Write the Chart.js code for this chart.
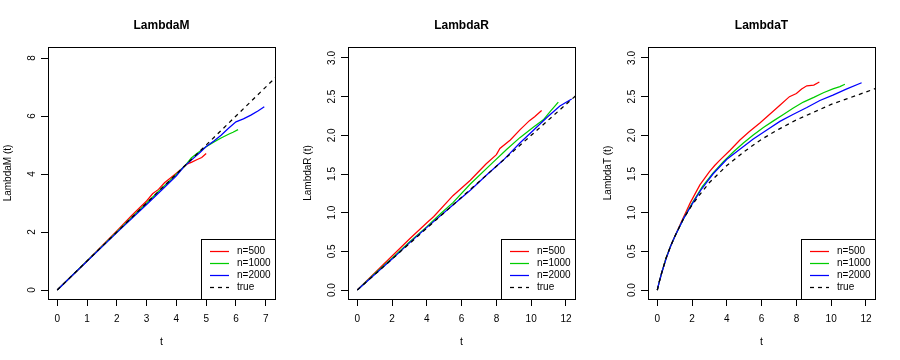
<!DOCTYPE html>
<html>
<head>
<meta charset="utf-8">
<script src="https://cdn.jsdelivr.net/npm/chart.js@4/dist/chart.umd.min.js"></script>
<style>
  html, body { margin: 0; padding: 0; background: #ffffff; }
  #wrap { position: relative; width: 900px; height: 360px; background: #fff; }
  .pane { position: absolute; top: 0; width: 300px; height: 360px; }
</style>
</head>
<body>
<div id="wrap">
  <div class="pane" style="left:0px"><canvas id="cM" width="300" height="360"></canvas></div>
  <div class="pane" style="left:300px"><canvas id="cR" width="300" height="360"></canvas></div>
  <div class="pane" style="left:600px"><canvas id="cT" width="300" height="360"></canvas></div>
</div>
<script>
// ---------- DATA ----------
const seriesLabels = ['n=500', 'n=1000', 'n=2000', 'true'];
const seriesColors = ['#FF0000', '#00CD00', '#0000FF', '#000000'];

// LambdaM panel
const tM500  = [0, 0.5, 1, 1.5, 2, 2.5, 2.8, 3.0, 3.2, 3.4, 3.6, 3.8, 4.0, 4.2, 4.35, 4.5, 4.7, 4.85, 5.0];
const yM500  = [0, 0.5, 1.0, 1.52, 2.04, 2.57, 2.87, 3.07, 3.32, 3.47, 3.7, 3.86, 4.03, 4.2, 4.34, 4.4, 4.5, 4.57, 4.71];
const tM1000 = [0, 1, 2, 3, 3.5, 4.0, 4.3, 4.5, 4.7, 5.0, 5.25, 5.5, 5.75, 5.9, 6.07];
const yM1000 = [0, 1.0, 2.0, 3.0, 3.5, 3.99, 4.3, 4.55, 4.72, 4.94, 5.1, 5.24, 5.37, 5.44, 5.53];
const tM2000 = [0, 1, 2, 3, 3.5, 4.0, 4.25, 4.5, 4.8, 5.0, 5.25, 5.5, 5.75, 6.0, 6.25, 6.5, 6.75, 6.95];
const yM2000 = [0, 0.99, 1.98, 2.95, 3.44, 3.94, 4.25, 4.48, 4.75, 4.95, 5.13, 5.34, 5.58, 5.8, 5.9, 6.03, 6.18, 6.32];
const tMtrue = [0, 7.4];
const yMtrue = [0, 7.4];

// LambdaR panel
const tR500  = [0, 1, 2, 3, 4, 4.4, 5.5, 6.5, 7.4, 8.0, 8.2, 8.8, 9.35, 9.9, 10.2, 10.6];
const yR500  = [0, 0.22, 0.44, 0.66, 0.87, 0.95, 1.22, 1.42, 1.63, 1.75, 1.83, 1.94, 2.07, 2.19, 2.24, 2.32];
const tR1000 = [0, 1, 2, 3, 4, 4.8, 5.5, 6.5, 7.8, 8.6, 9.35, 10.1, 10.7, 11.1, 11.56];
const yR1000 = [0, 0.21, 0.41, 0.62, 0.82, 0.99, 1.13, 1.37, 1.65, 1.82, 1.97, 2.1, 2.2, 2.31, 2.43];
const tR2000 = [0, 1, 2, 3, 4, 5.5, 6.5, 7.45, 8.4, 9.35, 10.1, 10.9, 11.65, 12.33];
const yR2000 = [0, 0.2, 0.4, 0.61, 0.81, 1.1, 1.29, 1.49, 1.68, 1.9, 2.06, 2.23, 2.38, 2.47];
const tRtrue = [0, 12.6];
const yRtrue = [0, 2.52];

// LambdaT panel
const tT500  = [0, 0.1, 0.25, 0.5, 0.75, 1, 1.4, 1.9, 2.45, 3.0, 3.3, 3.6, 4.2, 4.75, 5.3, 5.9, 6.5, 7.05, 7.6, 8.0, 8.3, 8.6, 9.0, 9.32];
const yT500  = [0, 0.095, 0.22, 0.41, 0.56, 0.69, 0.89, 1.13, 1.36, 1.53, 1.61, 1.68, 1.81, 1.94, 2.05, 2.16, 2.28, 2.39, 2.5, 2.54, 2.6, 2.64, 2.65, 2.69];
const tT1000 = [0, 0.1, 0.25, 0.5, 0.75, 1, 1.5, 2.0, 2.6, 3.2, 3.8, 4.4, 4.95, 5.5, 6.1, 6.7, 7.25, 7.8, 8.4, 9.0, 9.55, 10.1, 10.5, 10.79];
const yT1000 = [0, 0.095, 0.22, 0.41, 0.56, 0.69, 0.92, 1.12, 1.34, 1.51, 1.66, 1.79, 1.9, 2.0, 2.1, 2.19, 2.27, 2.35, 2.43, 2.49, 2.55, 2.6, 2.63, 2.66];
const tT2000 = [0, 0.1, 0.25, 0.5, 0.75, 1, 1.5, 2, 2.5, 3.2, 4.0, 4.75, 5.5, 6.3, 7.05, 7.8, 8.6, 9.35, 10.1, 10.9, 11.75];
const yT2000 = [0, 0.095, 0.22, 0.4, 0.56, 0.69, 0.92, 1.11, 1.29, 1.5, 1.69, 1.82, 1.95, 2.07, 2.18, 2.27, 2.36, 2.45, 2.52, 2.6, 2.68];
const tTtrue = [0, 0.1, 0.25, 0.5, 0.75, 1, 1.5, 2, 2.5, 3, 4, 5, 6, 7, 8, 9, 10, 11, 12, 12.6];
const yTtrue = [0, 0.095, 0.22, 0.41, 0.56, 0.69, 0.92, 1.10, 1.25, 1.39, 1.61, 1.79, 1.95, 2.08, 2.20, 2.30, 2.40, 2.48, 2.56, 2.61];

// ticks
const xTicksM = [0, 1, 2, 3, 4, 5, 6, 7];
const yTicksM = [0, 2, 4, 6, 8];
const xTicksRT = [0, 2, 4, 6, 8, 10, 12];
const yTicksRT = [0.0, 0.5, 1.0, 1.5, 2.0, 2.5, 3.0];

// ---------- HELPERS ----------
const FONT = '"Liberation Sans", Arial, Helvetica, sans-serif';
const pts = (xs, ys) => xs.map((x, i) => ({ x: x, y: ys[i] }));

function makeDatasets(list) {
  return list.map((p, i) => ({
    label: seriesLabels[i],
    data: pts(p[0], p[1]),
    borderColor: seriesColors[i],
    backgroundColor: seriesColors[i],
    borderWidth: 1.25,
    borderDash: i === 3 ? [4, 4] : [],
    pointRadius: 0,
    fill: false,
    tension: 0,
    order: 3 - i
  }));
}

const boxPlugin = {
  id: 'rbox',
  afterDatasetsDraw(chart) {
    const { ctx, chartArea: a } = chart;
    // legend box
    const lw = 74, lh = 60;
    const lx = Math.round(a.right) - lw, ly = Math.round(a.bottom) - lh;
    ctx.save();
    ctx.fillStyle = '#ffffff';
    ctx.fillRect(lx, ly, lw, lh);
    ctx.strokeStyle = '#000';
    ctx.lineWidth = 1;
    ctx.strokeRect(lx + 0.5, ly + 0.5, lw, lh);
    ctx.font = '10px ' + FONT;
    ctx.textBaseline = 'middle';
    ctx.textAlign = 'left';
    chart.data.datasets.forEach((ds, i) => {
      const yy = ly + 12.5 + i * 12;
      ctx.beginPath();
      ctx.strokeStyle = ds.borderColor;
      ctx.lineWidth = 1.25;
      ctx.setLineDash(ds.borderDash || []);
      ctx.moveTo(lx + 9, yy);
      ctx.lineTo(lx + 28, yy);
      ctx.stroke();
      ctx.setLineDash([]);
      ctx.fillStyle = '#000';
      ctx.fillText(ds.label, lx + 36, yy);
    });
    // plot frame
    ctx.strokeStyle = '#000';
    ctx.lineWidth = 1;
    ctx.strokeRect(Math.round(a.left) + 0.5, Math.round(a.top) + 0.5,
                   Math.round(a.right - a.left), Math.round(a.bottom - a.top));
    ctx.restore();
  }
};

function makeChart(id, title, ylab, sets, xr, yr, xt, yt, ypad) {
  const tickFont = { family: FONT, size: 10 };
  return new Chart(document.getElementById(id), {
    type: 'line',
    data: { datasets: makeDatasets(sets) },
    options: {
      responsive: false,
      animation: false,
      devicePixelRatio: 1,
      layout: { padding: { left: 0, right: 25, top: 0, bottom: 0 } },
      plugins: {
        legend: { display: false },
        tooltip: { enabled: false },
        title: {
          display: true, text: title, color: '#000', fullSize: false,
          font: { family: FONT, size: 12, weight: 'bold', lineHeight: 1.2 },
          padding: { top: 18, bottom: 14.6 }
        }
      },
      scales: {
        x: {
          type: 'linear', min: xr[0], max: xr[1],
          afterBuildTicks: s => { s.ticks = xt.map(v => ({ value: v })); },
          afterFit: s => { s.height = 61; },
          grid: { display: true, drawOnChartArea: false, drawTicks: true, tickLength: 7, color: '#000', lineWidth: 1 },
          border: { display: true, color: '#000', width: 1 },
          ticks: { color: '#000', font: tickFont, padding: 7, maxRotation: 0, minRotation: 0, autoSkip: false,
                   callback: v => String(v) },
          title: { display: true, text: 't', color: '#000', font: { family: FONT, size: 10.5 }, padding: { top: 0, bottom: 12 } }
        },
        y: {
          type: 'linear', min: yr[0], max: yr[1],
          afterBuildTicks: s => { s.ticks = yt.map(v => ({ value: v })); },
          afterFit: s => { s.width = 48; },
          grid: { display: true, drawOnChartArea: false, drawTicks: true, tickLength: 7, color: '#000', lineWidth: 1 },
          border: { display: true, color: '#000', width: 1 },
          ticks: { color: '#000', font: tickFont, padding: ypad, minRotation: 90, maxRotation: 90, autoSkip: false,
                   crossAlign: 'center', callback: v => (yt === yTicksRT ? Number(v).toFixed(1) : String(v)) },
          title: { display: true, text: ylab, color: '#000', font: { family: FONT, size: 10 }, padding: { top: 2, bottom: 0 } }
        }
      }
    },
    plugins: [boxPlugin]
  });
}

makeChart('cM', 'LambdaM', 'LambdaM (t)',
  [[tM500, yM500], [tM1000, yM1000], [tM2000, yM2000], [tMtrue, yMtrue]],
  [-0.31, 7.31], [-0.31, 8.38], xTicksM, yTicksM, 6.2);
makeChart('cR', 'LambdaR', 'LambdaR (t)',
  [[tR500, yR500], [tR1000, yR1000], [tR2000, yR2000], [tRtrue, yRtrue]],
  [-0.535, 12.52], [-0.116, 3.142], xTicksRT, yTicksRT, 2);
makeChart('cT', 'LambdaT', 'LambdaT (t)',
  [[tT500, yT500], [tT1000, yT1000], [tT2000, yT2000], [tTtrue, yTtrue]],
  [-0.535, 12.52], [-0.116, 3.142], xTicksRT, yTicksRT, 2);
</script>
</body>
</html>
